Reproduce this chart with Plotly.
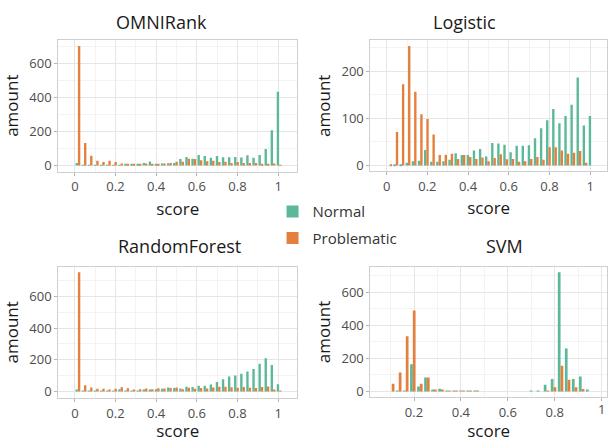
import plotly.graph_objects as go

# ---------------- data ----------------
panel_titles = ["OMNIRank", "Logistic", "RandomForest", "SVM"]
series_names = ["Normal", "Problematic"]

# histogram bins: width 0.03, boundary 0 -> bin centres
bin_centers = [round(0.015 + 0.03 * k, 3) for k in range(34)]
svm_centers = [round(0.015 + 0.03 * k, 3) for k in range(3, 32)]
score_ticks = [0, 0.2, 0.4, 0.6, 0.8, 1]
score_labels = ["0", "0.2", "0.4", "0.6", "0.8", "1"]

omni_normal = [15, 3, 2, 1, 2, 1, 2, 3, 5, 8, 8, 14, 23, 8, 12, 13, 14,
               38, 50, 40, 62, 55, 45, 55, 48, 48, 50, 47, 60, 45, 62, 97, 207, 433]
omni_problem = [703, 132, 57, 28, 20, 28, 20, 12, 7, 8, 10, 12, 8, 8, 12, 14, 22,
                22, 40, 38, 30, 25, 28, 20, 22, 15, 20, 15, 14, 14, 10, 10, 12, 3]

log_normal = [0, 1, 2, 6, 9, 10, 33, 8, 8, 9, 12, 26, 22, 22, 32, 35, 19,
              48, 47, 44, 28, 42, 42, 43, 58, 79, 96, 120, 90, 105, 129, 187, 85, 105]
log_problem = [2, 71, 173, 254, 157, 109, 99, 66, 22, 23, 25, 14, 22, 18, 14, 17, 9,
               16, 24, 13, 14, 8, 9, 14, 18, 12, 39, 39, 32, 25, 27, 31, 6, 0]

rf_normal = [12, 2, 1, 1, 2, 3, 5, 15, 4, 6, 5, 8, 10, 14, 17, 25, 23,
             19, 31, 29, 36, 36, 44, 61, 78, 95, 101, 112, 126, 143, 175, 210, 168, 46]
rf_problem = [752, 40, 25, 17, 17, 12, 17, 27, 21, 12, 15, 19, 15, 21, 19, 23, 25,
              15, 24, 17, 22, 20, 25, 30, 30, 27, 24, 28, 24, 22, 28, 32, 8, 2]

svm_normal = [0, 1, 5, 164, 30, 84, 10, 16, 5, 2, 1, 1, 1, 0, 0,
              0, 0, 0, 0, 0, 3, 5, 40, 75, 720, 260, 75, 90, 10]
svm_problem = [46, 115, 334, 490, 46, 84, 8, 10, 3, 3, 2, 2, 2, 0, 0,
               0, 0, 0, 0, 0, 0, 0, 5, 25, 155, 70, 25, 15, 0]

panels = [
    (bin_centers, omni_normal, omni_problem),
    (bin_centers, log_normal, log_problem),
    (bin_centers, rf_normal, rf_problem),
    (svm_centers, svm_normal, svm_problem),
]

# ---------------- style ----------------
W, H = 608, 442
GREEN = "#5BB899"
ORANGE = "#E3803D"
FONT = "Open Sans"
BORDER = "#CFCFCF"
GRID = "#E6E6E6"
MINOR = "#F3F3F3"
TICKFONT = dict(family=FONT, size=13, color="#4D4D4D")

# plot areas in pixels (x0, x1, ytop, ybottom)
areas = [
    (58.3, 297.7, 40.0, 173.3),
    (371.0, 608.0, 40.5, 173.0),
    (58.3, 297.7, 269.0, 401.7),
    (371.0, 608.0, 269.0, 401.0),
]
x_ranges = [[-0.082, 1.094], [-0.08, 1.083], [-0.082, 1.094], [0.014, 1.023]]
y_ranges = [[-37, 740], [-12.7, 266.7], [-41, 788], [-36, 755]]
y_dticks = [200, 100, 200, 200]

fig = go.Figure()

for i, (cx, vn, vp) in enumerate(panels):
    n = i + 1
    xa = "x" if n == 1 else f"x{n}"
    ya = "y" if n == 1 else f"y{n}"
    fig.add_trace(go.Bar(x=cx, y=vn, name=series_names[0], marker_color=GREEN,
                         marker_line_width=0, xaxis=xa, yaxis=ya,
                         legendgroup="n", showlegend=(n == 1), offsetgroup="n"))
    fig.add_trace(go.Bar(x=cx, y=vp, name=series_names[1], marker_color=ORANGE,
                         marker_line_width=0, xaxis=xa, yaxis=ya,
                         legendgroup="p", showlegend=(n == 1), offsetgroup="p"))

layout = dict(
    width=W, height=H,
    margin=dict(l=0, r=0, t=0, b=0),
    paper_bgcolor="white", plot_bgcolor="white",
    barmode="group", bargap=0.22, bargroupgap=0.0,
    font=dict(family=FONT, size=13, color="#4D4D4D"),
    showlegend=True,
    legend=dict(x=273 / W, y=1 - 197 / H, xanchor="left", yanchor="top",
                font=dict(family=FONT, size=15, color="#333333"),
                tracegroupgap=4, bgcolor="rgba(0,0,0,0)"),
)

for i in range(4):
    n = i + 1
    x0, x1, yt, yb = areas[i]
    xkey = "xaxis" if n == 1 else f"xaxis{n}"
    ykey = "yaxis" if n == 1 else f"yaxis{n}"
    xa = "x" if n == 1 else f"x{n}"
    ya = "y" if n == 1 else f"y{n}"
    # the SVM panel's last label sits at the page edge; it is drawn as an annotation below
    labels = score_labels if n != 4 else score_labels[:-1] + [""]
    layout[xkey] = dict(
        domain=[x0 / W, x1 / W], anchor=ya, range=x_ranges[i],
        tickmode="array", tickvals=score_ticks, ticktext=labels,
        ticks="outside", ticklen=3, tickcolor="#B3B3B3",
        tickfont=TICKFONT,
        showgrid=True, gridcolor=GRID, gridwidth=1,
        minor=dict(dtick=0.1, tick0=0, showgrid=True, gridcolor=MINOR, gridwidth=1, ticks=""),
        showline=True, mirror=True, linecolor=BORDER, linewidth=1,
        zeroline=False,
        title=dict(text="score", font=dict(family=FONT, size=17, color="#1A1A1A"), standoff=8),
    )
    layout[ykey] = dict(
        domain=[1 - yb / H, 1 - yt / H], anchor=xa, range=y_ranges[i],
        tickmode="linear", tick0=0, dtick=y_dticks[i],
        ticks="outside", ticklen=3, tickcolor="#B3B3B3",
        tickfont=TICKFONT,
        showgrid=True, gridcolor=GRID, gridwidth=1,
        minor=dict(dtick=y_dticks[i] / 2, tick0=0, showgrid=True, gridcolor=MINOR, gridwidth=1, ticks=""),
        showline=True, mirror=True, linecolor=BORDER, linewidth=1,
        zeroline=False,
        title=dict(text="amount", font=dict(family=FONT, size=17, color="#1A1A1A"), standoff=6),
    )

fig.update_layout(**layout)

# last tick label of the SVM score axis
fig.add_annotation(text=score_labels[-1], x=score_ticks[-1], xref="x4",
                   y=1 - 413 / H, yref="paper", xanchor="center", yanchor="middle",
                   showarrow=False, font=TICKFONT)

title_pos = [(162, 22), (465, 22), (180, 248), (505, 248)]
for t, (tx, ty) in zip(panel_titles, title_pos):
    fig.add_annotation(text=t, x=tx / W, y=1 - ty / H, xref="paper", yref="paper",
                       xanchor="center", yanchor="middle", showarrow=False,
                       font=dict(family=FONT, size=18, color="#1A1A1A"))

fig.write_html("out.html", config={"displayModeBar": False},
               post_script="document.body.style.margin='0';document.body.style.overflow='hidden';")
